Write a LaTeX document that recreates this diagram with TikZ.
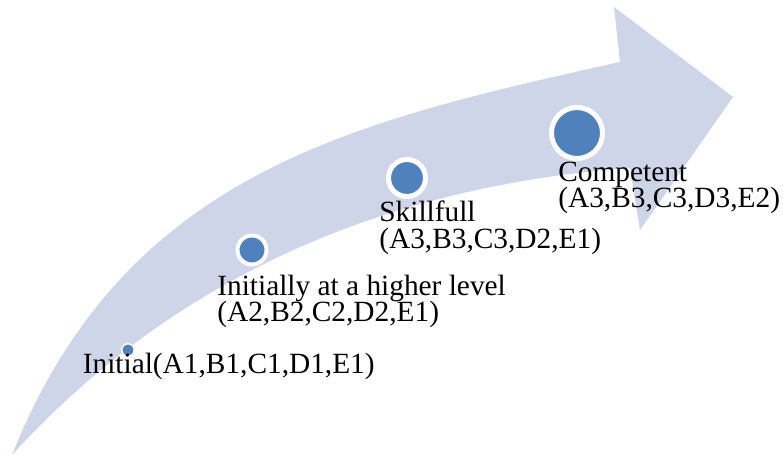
\documentclass[tikz,border=0pt]{standalone}
\usepackage{fontspec}
\setmainfont{Liberation Serif}
\usetikzlibrary{positioning}
\definecolor{band1}{RGB}{207,213,232}
\definecolor{blue1}{RGB}{79,129,189}
\tikzstyle{stagedot} = [circle, fill=blue1, draw=white, inner sep=0pt]
\tikzstyle{stagetext} = [anchor=base west, align=left, inner sep=0pt, font=\fontsize{16.7}{15.2}\selectfont]

\begin{document}
\begin{tikzpicture}
    \useasboundingbox (0,0) rectangle (15.66,9.16);

    % curved arrow
    \fill[band1] (0.24,0.06)
        .. controls (2.50,5.70) and (7.00,6.72) .. (12.40,7.92)
        -- (12.28,9.02)
        -- (14.66,7.22)
        -- (12.80,4.56)
        -- (12.60,5.80)
        .. controls (8.00,5.46) and (3.64,3.80) .. cycle;

    % stages
    \node[stagedot, minimum size=0.25cm, line width=0.03cm] (d1) at (2.56,2.16) {};
    \node[stagedot, minimum size=0.58cm, line width=0.08cm] (d2) at (5.04,4.16) {};
    \node[stagedot, minimum size=0.74cm, line width=0.10cm] (d3) at (8.14,5.60) {};
    \node[stagedot, minimum size=1.02cm, line width=0.10cm] (d4) at (11.54,6.50) {};

    % text (base = last line)
    \node[stagetext] (initial) at (1.65,1.68) {Initial(A1,B1,C1,D1,E1)};
    \node[stagetext] (higher) at (4.34,2.72) {Initially at a higher level\\(A2,B2,C2,D2,E1)};
    \node[stagetext] (skillfull) at (7.58,4.19) {Skillfull\\(A3,B3,C3,D2,E1)};
    \node[stagetext] (competent) at (11.16,5.00) {Competent\\(A3,B3,C3,D3,E2)};
\end{tikzpicture}
\end{document}
